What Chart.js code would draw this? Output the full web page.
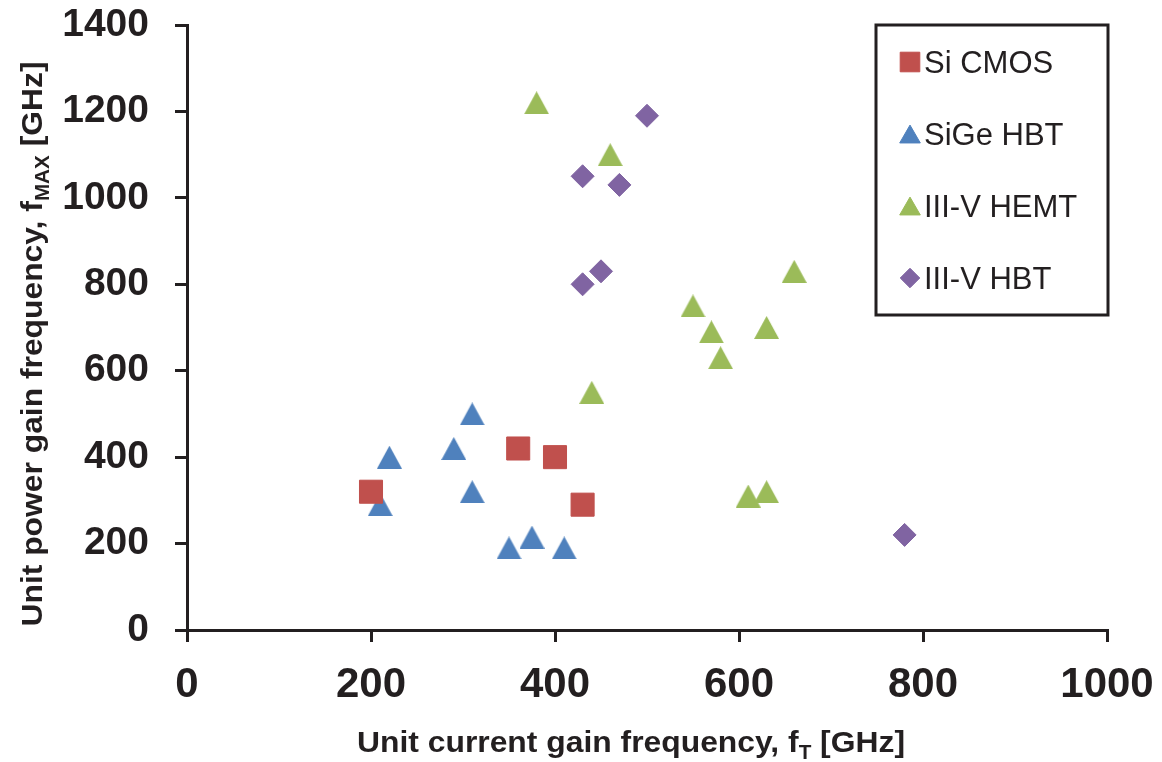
<!DOCTYPE html>
<html>
<head>
<meta charset="utf-8">
<script src="https://cdn.jsdelivr.net/npm/chart.js@4.4.1/dist/chart.umd.min.js"></script>
<style>
  body { margin: 0; background: #fff; }
  #wrap { width: 1162px; height: 762px; }
</style>
</head>
<body>
<div id="wrap"><canvas id="chart" width="1162" height="762"></canvas></div>
<script>
// datos (GHz)
const siCmosX = [200, 360, 400, 430];
const siCmosY = [320, 420, 400, 290];

const sigeHbtX = [210, 220, 290, 310, 310, 350, 375, 410];
const sigeHbtY = [290, 400, 420, 500, 320, 190, 215, 190];

const hemtX = [380, 460, 440, 550, 570, 580, 630, 660, 610, 630];
const hemtY = [1220, 1100, 550, 750, 690, 630, 700, 830, 310, 320];

const hbtX = [500, 430, 470, 450, 430, 780];
const hbtY = [1190, 1050, 1030, 830, 800, 220];

const xTicks = [0, 200, 400, 600, 800, 1000];
const yTicks = [0, 200, 400, 600, 800, 1000, 1200, 1400];

const seriesNames = ["Si CMOS", "SiGe HBT", "III-V HEMT", "III-V HBT"];
const colores = ["#C0504D", "#4F81BD", "#9BBB59", "#8064A2"];
const estilos = ["rect", "triangle", "triangle", "rectRot"];
const radios = [16.3, 14, 14, 11.5];

const TXT = "#231F20";

function puntos(xs, ys) {
    return xs.map((x, i) => ({ x: x, y: ys[i] }));
}

const datos = [
    puntos(siCmosX, siCmosY),
    puntos(sigeHbtX, sigeHbtY),
    puntos(hemtX, hemtY),
    puntos(hbtX, hbtY)
];

// triangulo centrado en su caja (como Excel)
function trianguloImg(color) {
    const c = document.createElement("canvas");
    c.width = 25;
    c.height = 23;
    const g = c.getContext("2d");
    g.fillStyle = color;
    g.beginPath();
    g.moveTo(12.5, 0);
    g.lineTo(25, 23);
    g.lineTo(0, 23);
    g.closePath();
    g.fill();
    return c;
}

function estiloSerie(i) {
    return estilos[i] === "triangle" ? trianguloImg(colores[i]) : estilos[i];
}

// texto con subindice, ajustado a un ancho dado
function textoSub(ctx, partes, cx, cy, size, ancho, rot) {
    ctx.save();
    ctx.translate(cx, cy);
    if (rot) ctx.rotate(rot);
    let total = 0;
    partes.forEach(p => {
        ctx.font = "bold " + (p.sub ? size * 0.65 : size) + "px 'Liberation Sans', Arial, sans-serif";
        total += ctx.measureText(p.t).width;
    });
    const esc = ancho / total;
    ctx.scale(esc, 1);
    let x = -total / 2;
    ctx.fillStyle = TXT;
    ctx.textBaseline = "alphabetic";
    ctx.textAlign = "left";
    partes.forEach(p => {
        ctx.font = "bold " + (p.sub ? size * 0.65 : size) + "px 'Liberation Sans', Arial, sans-serif";
        ctx.fillText(p.t, x, p.sub ? size * 0.22 : 0);
        x += ctx.measureText(p.t).width;
    });
    ctx.restore();
}

const titulosYLeyenda = {
    id: "titulosYLeyenda",
    afterDraw(chart) {
        const ctx = chart.ctx;

        // titulo eje x
        textoSub(ctx, [
            { t: "Unit current gain frequency, f" },
            { t: "T", sub: true },
            { t: " [GHz]" }
        ], 631, 752, 30, 548, 0);

        // titulo eje y
        textoSub(ctx, [
            { t: "Unit power gain frequency, f" },
            { t: "MAX", sub: true },
            { t: " [GHz]" }
        ], 42, 344, 30, 565, -Math.PI / 2);

        // leyenda
        ctx.save();
        ctx.strokeStyle = TXT;
        ctx.lineWidth = 3;
        ctx.strokeRect(876, 25, 232, 290);
        const filas = [62, 134, 206, 278];
        seriesNames.forEach((nombre, i) => {
            ctx.fillStyle = colores[i];
            ctx.strokeStyle = colores[i];
            ctx.lineWidth = 1;
            Chart.helpers.drawPoint(ctx, {
                pointStyle: estilos[i],
                radius: radios[i] * 0.85,
                borderWidth: 1,
                rotation: 0
            }, 910, filas[i] + (estilos[i] === "triangle" ? 3 : 0));
            ctx.fillStyle = TXT;
            ctx.font = "31px 'Liberation Sans', Arial, sans-serif";
            ctx.textBaseline = "alphabetic";
            ctx.textAlign = "left";
            ctx.fillText(nombre, 924, filas[i] + 11);
        });
        ctx.restore();
    }
};

function sinPadding(s) {
    s.paddingTop = 0;
    s.paddingBottom = 0;
    s.paddingLeft = 0;
    s.paddingRight = 0;
}

new Chart(document.getElementById("chart"), {
    type: "scatter",
    data: {
        datasets: datos.map((d, i) => ({
            label: seriesNames[i],
            data: d,
            pointStyle: estiloSerie(i),
            pointRadius: radios[i],
            pointHoverRadius: radios[i],
            backgroundColor: colores[i],
            borderColor: colores[i],
            borderWidth: 1,
            clip: false
        }))
    },
    options: {
        responsive: false,
        animation: false,
        layout: { padding: { top: 25, right: 55, left: 0, bottom: 0 } },
        plugins: {
            legend: { display: false },
            tooltip: { enabled: false }
        },
        scales: {
            x: {
                type: "linear",
                min: xTicks[0],
                max: xTicks[xTicks.length - 1],
                afterBuildTicks: s => { s.ticks = xTicks.map(v => ({ value: v })); },
                afterFit: s => { s.height = 132; sinPadding(s); },
                border: { display: true, color: TXT, width: 3 },
                grid: { display: true, drawOnChartArea: false, drawTicks: true, tickLength: 12, color: TXT, lineWidth: 3 },
                ticks: {
                    color: TXT,
                    padding: 18,
                    maxRotation: 0,
                    callback: v => String(v),
                    font: { family: "'Liberation Sans', Arial, sans-serif", size: 42, weight: "bold" }
                }
            },
            y: {
                type: "linear",
                min: yTicks[0],
                max: yTicks[yTicks.length - 1],
                afterBuildTicks: s => { s.ticks = yTicks.map(v => ({ value: v })); },
                afterFit: s => { s.width = 187; sinPadding(s); },
                border: { display: true, color: TXT, width: 3 },
                grid: { display: true, drawOnChartArea: false, drawTicks: true, tickLength: 12, color: TXT, lineWidth: 3 },
                ticks: {
                    color: TXT,
                    padding: 26,
                    callback: v => String(v),
                    font: { family: "'Liberation Sans', Arial, sans-serif", size: 39, weight: "bold" }
                }
            }
        }
    },
    plugins: [titulosYLeyenda]
});
</script>
</body>
</html>
